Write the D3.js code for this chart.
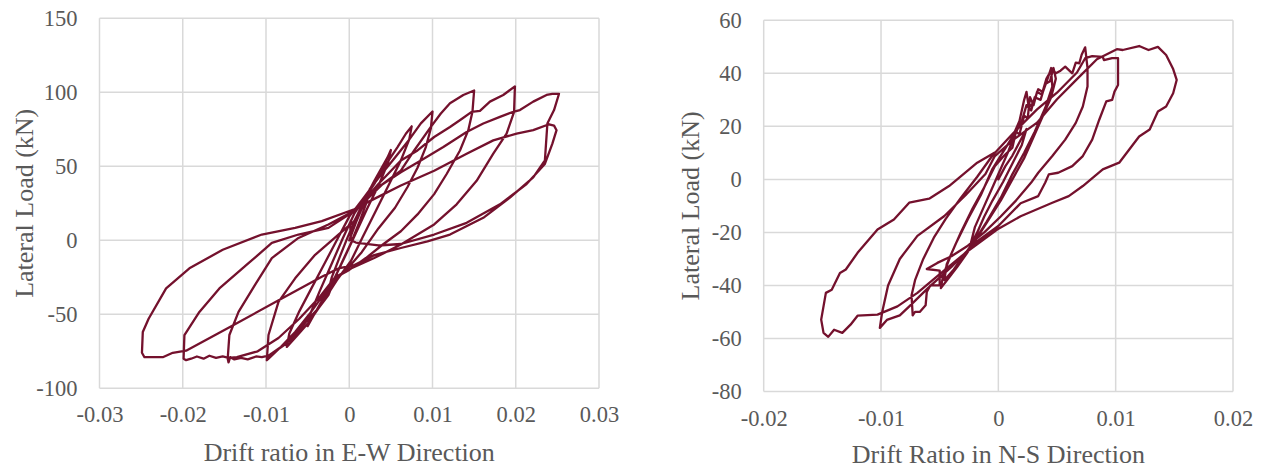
<!DOCTYPE html>
<html><head><meta charset="utf-8">
<script src="https://cdn.jsdelivr.net/npm/d3@7"></script>
<style>
body{margin:0;background:#fff}
text{font-family:"Liberation Serif","Times New Roman",serif;fill:#595959}
</style>
</head><body>
<svg id="c" width="1263" height="470"></svg>
<script>
// ---------- data ----------
const ewXTicks = [-0.03, -0.02, -0.01, 0, 0.01, 0.02, 0.03];
const ewYTicks = [-100, -50, 0, 50, 100, 150];
const nsXTicks = [-0.02, -0.01, 0, 0.01, 0.02];
const nsYTicks = [-80, -60, -40, -20, 0, 20, 40, 60];
const ewXTitle = "Drift ratio in E-W Direction";
const nsXTitle = "Drift Ratio in N-S Direction";
const yTitle = "Lateral Load (kN)";

// E-W hysteresis: [drift ratio, lateral load kN]
const ewPoints = [
[0,0],[0.0008,12],[0.0017,24],[0.0025,35],[0.0021,26],[0.0012,12],[0.0002,-2],[-0.0008,-14],[-0.0017,-25],[-0.0025,-34],[-0.0021,-25],[-0.0012,-12],[-0.0002,2],[0.0008,15],
[0.0018,27],[0.003,40],[0.0042,52],[0.0046,56],[0.005,61],[0.0047,53],[0.0036,38],[0.0022,22],[0.0008,5],[-0.0006,-12],[-0.0018,-26],[-0.0032,-40],[-0.0043,-51],[-0.005,-58],[-0.0047,-50],[-0.0036,-35],[-0.0022,-17],[-0.0008,1],[0.0006,18],
[0.0018,28],[0.003,38],[0.0045,52],[0.0058,63],[0.0068,72],[0.0075,77],[0.0072,68],[0.0062,54],[0.0048,38],[0.0032,20],[0.0016,2],[0.0002,-14],[-0.0015,-27],[-0.0032,-42],[-0.0048,-55],[-0.0062,-64],[-0.0075,-72],[-0.0072,-63],[-0.006,-48],[-0.0045,-32],[-0.003,-16],[-0.0015,0],[0,16],
[0.0015,27],[0.0035,42],[0.0055,56],[0.0072,68],[0.0086,79],[0.01,87],[0.0098,75.5],[0.0092,63],[0.0082,49],[0.007,36],[0.0055,22],[0.0035,8],[0.0015,-8],[-0.0005,-21],[-0.0018,-27],[-0.0025,-37],[-0.0037,-46],[-0.0049,-53],[-0.0065,-64],[-0.0076,-70],[-0.0085,-73.5],[-0.0097,-80],[-0.0099,-81],[-0.0097,-64],[-0.0085,-41.6],[-0.0065,-25.7],[-0.0041,-9.8],[-0.0013,3.9],[0.0006,13],
[0.0018,26],[0.004,38],[0.0062,47],[0.0078,60.7],[0.0098,76.6],[0.011,85.7],[0.0121,92.6],[0.0137,98.2],[0.015,101.2],[0.0148,86.8],[0.0143,74.4],[0.0133,60.7],[0.0117,44.8],[0.0102,31.2],[0.0082,17.5],[0.0062,6.1],[0.004,-3],[0.002,-12],[0,-20],[-0.0016,-25],[-0.003,-36],[-0.0048,-50],[-0.0065,-62],[-0.0082,-72],[-0.0097,-78],[-0.0105,-79],[-0.0112,-78.5],[-0.0122,-80.5],[-0.013,-79.5],[-0.0138,-80.5],[-0.0143,-79],[-0.0145,-82.5],[-0.0146,-80],[-0.0144,-64],[-0.0133,-48.4],[-0.0113,-30],[-0.0093,-12],[-0.0061,1.6],[-0.0025,10.7],[0.0006,20],
[0.0018,27],[0.0035,38],[0.0062,53.9],[0.0082,60.7],[0.0102,69.8],[0.0121,76.6],[0.0135,82],[0.0147,86.8],[0.0157,87.5],[0.0169,93.7],[0.0185,98.2],[0.0199,104],[0.0198,86.8],[0.0189,72.1],[0.0173,58.5],[0.0153,40.2],[0.0129,24.3],[0.0102,10.7],[0.0062,-2.9],[0.003,-12],[0.0002,-19],[-0.0017,-25],[-0.0035,-38],[-0.006,-53],[-0.0085,-66],[-0.011,-75],[-0.0135,-79],[-0.0145,-79.5],[-0.0152,-78.5],[-0.016,-79.5],[-0.0168,-78],[-0.0175,-80],[-0.0183,-78.5],[-0.019,-80],[-0.0196,-81],[-0.0199,-80],[-0.0198,-64],[-0.018,-48.4],[-0.0156,-32.5],[-0.0121,-15.5],[-0.0093,-1.8],[-0.0061,3.9],[-0.0025,8.4],[0.0006,19.8],
[0.0018,27],[0.0035,36],[0.0062,46],[0.0086,53.9],[0.0113,63],[0.0141,73.2],[0.0161,78.9],[0.0181,83.4],[0.0198,87],[0.0205,88],[0.0221,93.7],[0.0237,98.2],[0.0244,99],[0.0252,99],[0.0246,88],[0.0238,78.9],[0.0235,53.9],[0.0221,42.5],[0.0193,28.9],[0.0161,15.2],[0.0121,3.9],[0.0094,-0.7],[0.0062,-5.2],[0.003,-10],[0.0005,-17],[-0.0013,-19],[-0.0033,-24.6],[-0.0081,-39.4],[-0.014,-57.5],[-0.0196,-74.6],[-0.0212,-76],[-0.0224,-79],[-0.0246,-79],[-0.0249,-76],[-0.0248,-62],[-0.0241,-53],[-0.022,-32.5],[-0.0192,-18.9],[-0.0152,-6.4],[-0.0105,3.9],[-0.0065,8.4],[-0.0033,13],[0.0006,21],
[0.003,28],[0.0062,37],[0.0102,47],[0.0141,58.5],[0.0173,67.5],[0.0201,72.1],[0.0221,74.4],[0.024,78.4],[0.0246,77.5],[0.0249,74.4],[0.0244,65.3],[0.0235,51.6],[0.0213,38],[0.0181,24.3],[0.0141,11.8],[0.0102,3.9],[0.0062,-2.5],[0.0035,-3.5],[0.0008,-1.5],[0.0002,0],[0.0001,12]
];

// N-S hysteresis: [drift ratio, lateral load kN]
const nsPoints = [
[0,0],[0.0006,5],[0.0012,9],[0.0018,14],[0.0024,19],[0.002,13],[0.0012,6],[0.0004,-1],[-0.0005,-8],[-0.0012,-14],[-0.0018,-20],[-0.0024,-25],[-0.002,-18],[-0.0012,-10],[-0.0004,-2],[0.0002,4],
[0.0008,10],[0.0014,17],[0.002,22],[0.0024,28],[0.0028,26],[0.0031,31],[0.0036,30],[0.004,36],[0.0044,37],[0.0047,42],[0.0049,38],[0.0045,31],[0.0038,24],[0.003,16],[0.0022,8],[0.0012,0],[0.0002,-8],[-0.0008,-15],[-0.0018,-22],[-0.0027,-28],[-0.0035,-33],[-0.0042,-37],[-0.0049,-41],[-0.0047,-36],[-0.004,-28],[-0.0032,-20],[-0.0022,-11],[-0.0012,-3],[-0.0003,5],
[0.0005,9],[0.0012,12],[0.0015,18],[0.0018,17],[0.0022,24],[0.0025,23],[0.0027,31],[0.003,28],[0.0033,33],[0.0037,32],[0.0041,38],[0.0045,41],[0.0046,35],[0.004,27],[0.0031,18],[0.0022,10],[0.0012,2],[0.0002,-7],[-0.001,-16],[-0.002,-23],[-0.003,-29],[-0.0038,-34],[-0.0046,-38],[-0.0044,-32],[-0.0036,-24],[-0.0026,-15],[-0.0015,-6],[-0.0005,4],
[0.0005,11],[0.0012,16],[0.0018,22],[0.0022,30],[0.0024,33],[0.0026,27],[0.003,29],[0.0034,34],[0.0038,33],[0.0042,38],[0.0045,42],[0.0049,40],[0.0053,41],[0.0057,42.5],[0.0063,40],[0.0066,44],[0.0069,43.8],[0.0071,47],[0.0074,49.8],[0.0076,42],[0.0076,35],[0.0072,27.5],[0.0066,21.3],[0.0057,15],[0.0046,8.8],[0.0034,2.5],[0.0028,-1.2],[0.0015,-8],[0.0002,-14],[-0.0012,-20],[-0.0026,-25],[-0.004,-29],[-0.0052,-31.5],[-0.0061,-33.8],[-0.005,-34.4],[-0.005,-40],[-0.0058,-40],[-0.0061,-42.5],[-0.0062,-47.5],[-0.0067,-50],[-0.0071,-50],[-0.0073,-51.3],[-0.0074,-43.8],[-0.0071,-38],[-0.0064,-30],[-0.0055,-22],[-0.0045,-15],[-0.0032,-7],[-0.0018,1],[-0.0005,9],
[0.0013,17.6],[0.0033,26.4],[0.005,32.7],[0.0067,40.3],[0.0074,45.7],[0.008,46.5],[0.0089,46.2],[0.009,45],[0.0097,45.7],[0.0102,45.7],[0.0102,35.6],[0.0099,33.1],[0.0097,30],[0.0092,29.4],[0.0086,22.5],[0.008,15],[0.0072,8.8],[0.0063,5],[0.0051,2.5],[0.0043,1.9],[0.004,-1.2],[0.0034,-6.3],[0.0019,-9],[0,-17.6],[-0.002,-24],[-0.004,-33],[-0.006,-41],[-0.0075,-47.5],[-0.0084,-51.3],[-0.0095,-53],[-0.0101,-56],[-0.0099,-50],[-0.0094,-40],[-0.0084,-30],[-0.0069,-21.3],[-0.0046,-13.8],[-0.0028,-6],[-0.0011,2],[-0.0003,8.8],
[0.0013,15],[0.0033,21.4],[0.005,30.2],[0.0067,37.8],[0.0084,45.3],[0.0101,49.1],[0.0106,48.8],[0.012,50.3],[0.0128,48.8],[0.0136,50],[0.0143,46.9],[0.0149,41.6],[0.0152,37.5],[0.0149,32.5],[0.0143,27.5],[0.0136,25.6],[0.0129,18.8],[0.012,16.2],[0.0103,6.3],[0.0089,3.8],[0.0072,-2.5],[0.006,-6.3],[0.0046,-8.8],[0.0019,-13.9],[-0.0001,-18.9],[-0.0028,-27.7],[-0.0052,-36.5],[-0.0069,-42.8],[-0.0086,-47.9],[-0.0103,-51],[-0.012,-51.4],[-0.0126,-54.8],[-0.0133,-57.9],[-0.014,-56.7],[-0.0145,-59.4],[-0.0149,-57.9],[-0.0151,-52.9],[-0.0147,-42.8],[-0.0142,-41.6],[-0.0135,-35.3],[-0.013,-34],[-0.012,-27.7],[-0.0103,-18.9],[-0.0089,-15.1],[-0.0076,-8.8],[-0.0059,-7.3],[-0.0042,-2.5],[-0.0018,6.3],[-0.0003,10.1]
];

// ---------- drawing ----------
const svg = d3.select("#c");
const LINE = "#74112d", GRID = "#d9d9d9";

function fmt(d){ return d === 0 ? "0" : String(d); }

function panel(o){
  const x = d3.scaleLinear().domain(d3.extent(o.xTicks)).range([o.left, o.right]);
  const y = d3.scaleLinear().domain(d3.extent(o.yTicks)).range([o.bottom, o.top]);
  const g = svg.append("g");

  g.selectAll(".hg").data(o.yTicks).join("line")
    .attr("x1", o.left).attr("x2", o.right)
    .attr("y1", d => y(d)).attr("y2", d => y(d))
    .attr("stroke", GRID).attr("stroke-width", 1.5);
  g.selectAll(".vg").data(o.xTicks).join("line")
    .attr("y1", o.top).attr("y2", o.bottom)
    .attr("x1", d => x(d)).attr("x2", d => x(d))
    .attr("stroke", GRID).attr("stroke-width", 1.5);

  const xa = g.append("g").attr("transform", `translate(0,${o.bottom})`)
    .call(d3.axisBottom(x).tickValues(o.xTicks).tickFormat(fmt).tickSize(0).tickPadding(o.xPad));
  const ya = g.append("g").attr("transform", `translate(${o.left},0)`)
    .call(d3.axisLeft(y).tickValues(o.yTicks).tickFormat(fmt).tickSize(0).tickPadding(o.yPad));
  [xa, ya].forEach(a => {
    a.select(".domain").remove();
    a.attr("font-family", null).attr("font-size", null);
    a.selectAll("text").style("font-size", "22.5px").attr("fill", "#595959");
  });

  g.append("path").datum(o.points)
    .attr("d", d3.line().x(d => x(d[0])).y(d => y(d[1])))
    .attr("fill", "none").attr("stroke", LINE).attr("stroke-width", 2.3)
    .attr("stroke-linejoin", "round").attr("stroke-linecap", "round");

  g.append("text").attr("x", (o.left + o.right) / 2).attr("y", o.xTitleY)
    .attr("text-anchor", "middle").style("font-size", "26px").text(o.xTitle);
  g.append("text").attr("transform", `translate(${o.yTitleX},${(o.top + o.bottom) / 2}) rotate(-90)`)
    .attr("text-anchor", "middle").attr("dy", "0.35em").style("font-size", "26px").text(yTitle);
}

panel({xTicks: ewXTicks, yTicks: ewYTicks, points: ewPoints,
  left: 99.5, right: 599, top: 18.3, bottom: 388.3, xPad: 18, yPad: 22,
  xTitle: ewXTitle, xTitleY: 461, yTitleX: 24});
panel({xTicks: nsXTicks, yTicks: nsYTicks, points: nsPoints,
  left: 763.7, right: 1233, top: 20.3, bottom: 391.5, xPad: 19, yPad: 22,
  xTitle: nsXTitle, xTitleY: 463, yTitleX: 690});
</script>
</body></html>
